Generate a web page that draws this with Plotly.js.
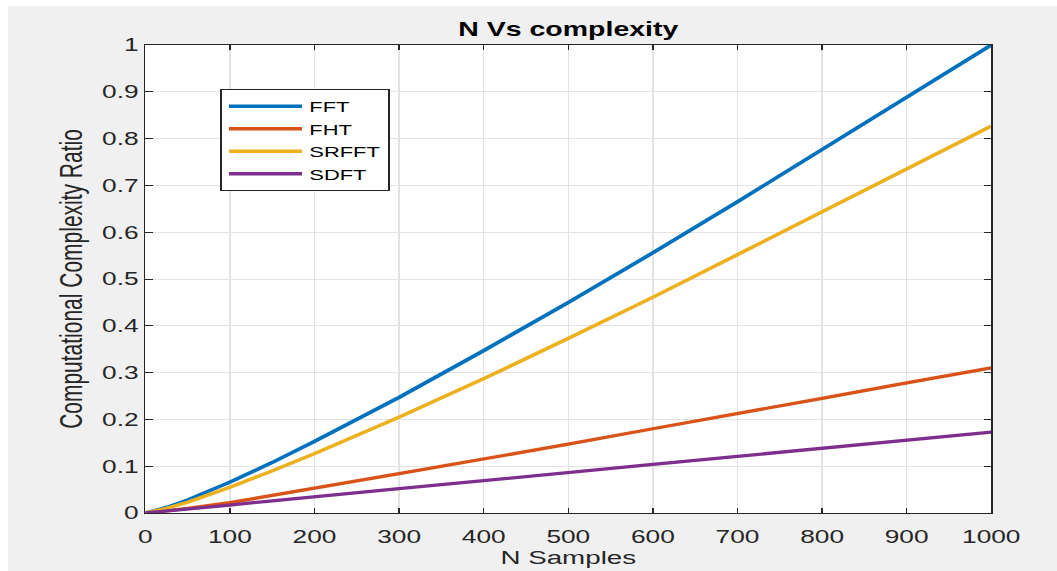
<!DOCTYPE html>
<html>
<head>
<meta charset="utf-8">
<script src="https://cdn.plot.ly/plotly-3.0.1.min.js"></script>
<style>
html,body{margin:0;padding:0;background:#ffffff;overflow:hidden;}
#wrap{position:absolute;left:8px;top:6px;width:1049px;height:565px;background:#f0f0f0;overflow:hidden;}
#chart{position:absolute;left:0;top:0;width:718px;height:565px;transform:scaleX(1.461);transform-origin:0 0;}
</style>
</head>
<body>
<div id="wrap"><div id="chart"></div></div>
<script>
// N samples
var nSamples = [0, 25, 50, 100, 150, 200, 300, 400, 500, 600, 700, 800, 900, 1000];
// Series values
var fft   = [0, 0.012, 0.028, 0.066, 0.108, 0.153, 0.247, 0.347, 0.450, 0.556, 0.665, 0.776, 0.887, 1.000];
var fht   = [0, 0.005, 0.010, 0.022, 0.037, 0.053, 0.084, 0.115, 0.147, 0.180, 0.212, 0.245, 0.278, 0.310];
var srfft = [0, 0.010, 0.023, 0.055, 0.090, 0.127, 0.205, 0.287, 0.373, 0.461, 0.552, 0.644, 0.736, 0.827];
var sdft  = [0, 0.004, 0.009, 0.017, 0.026, 0.035, 0.052, 0.069, 0.087, 0.104, 0.121, 0.138, 0.156, 0.173];

var seriesNames = ['FFT', 'FHT', 'SRFFT', 'SDFT'];
var seriesData = [fft, fht, srfft, sdft];
var seriesColors = ['#0072BD', '#D95319', '#EDB120', '#7E2F8E'];

var xTicks = [0, 100, 200, 300, 400, 500, 600, 700, 800, 900, 1000];
var yTicks = [0, 0.1, 0.2, 0.3, 0.4, 0.5, 0.6, 0.7, 0.8, 0.9, 1];
var yTickText = ['0', '0.1', '0.2', '0.3', '0.4', '0.5', '0.6', '0.7', '0.8', '0.9', '1'];

var traces = seriesNames.map(function (name, i) {
  return {
    x: nSamples, y: seriesData[i], name: name, type: 'scatter', mode: 'lines',
    line: {color: seriesColors[i], width: 3.3}
  };
});

var FONT = 'Liberation Sans, Arial, sans-serif';
var axisCommon = {
  showline: true, linecolor: '#262626', linewidth: 1, mirror: 'ticks',
  ticks: 'inside', ticklen: 5, tickcolor: '#262626', tickwidth: 1,
  showgrid: true, gridcolor: '#e3e3e3', gridwidth: 1, zeroline: false,
  tickfont: {family: FONT, size: 18, color: '#262626'}
};

var layout = {
  width: 718, height: 565,
  paper_bgcolor: '#f0f0f0', plot_bgcolor: '#ffffff',
  margin: {l: 94, r: 44.5, t: 39, b: 58},
  title: {text: '<b>N Vs complexity</b>', x: 0.5, xref: 'paper', y: 0.959, yref: 'container', yanchor: 'middle',
          font: {family: FONT, size: 19.5, color: '#000000'}},
  xaxis: Object.assign({}, axisCommon, {
    range: [0, 1000], tickvals: xTicks, ticktext: xTicks.map(String), ticklabelstandoff: 7,
    title: {text: 'N Samples', standoff: 5, font: {family: FONT, size: 19, color: '#262626'}}
  }),
  yaxis: Object.assign({}, axisCommon, {
    range: [0, 1], tickvals: yTicks, ticktext: yTickText,
    title: {text: 'Computational Complexity Ratio', standoff: 7, font: {family: FONT, size: 21, color: '#262626'}}
  }),
  showlegend: true,
  legend: {
    x: 0.0885, y: 0.906, xanchor: 'left', yanchor: 'top',
    bgcolor: '#ffffff', bordercolor: '#262626', borderwidth: 1,
    font: {family: FONT, size: 15, color: '#000000'},
    tracegroupgap: 0, itemwidth: 50
  }
};

Plotly.newPlot('chart', traces, layout, {displayModeBar: false, staticPlot: true});
</script>
</body>
</html>
